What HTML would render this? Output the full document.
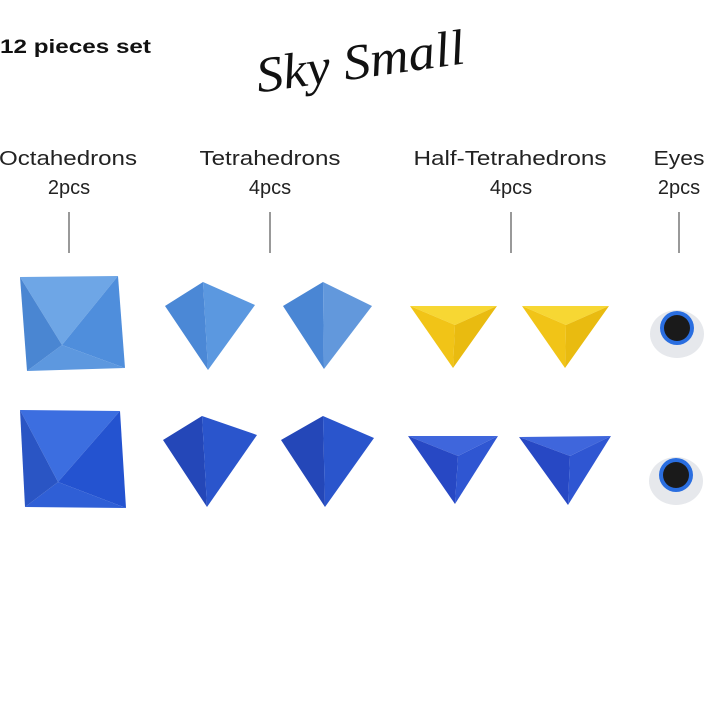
<!DOCTYPE html>
<html><head><meta charset="utf-8"><style>
html,body{margin:0;padding:0;background:#fff;width:728px;height:728px;overflow:hidden}
</style></head><body>
<svg width="728" height="728" viewBox="0 0 728 728" xmlns="http://www.w3.org/2000/svg">
<rect width="728" height="728" fill="#fff"/>
<text x="0" y="53" font-family="Liberation Sans, sans-serif" font-size="19" font-weight="bold" fill="#111" textLength="151" lengthAdjust="spacingAndGlyphs">12 pieces set</text>
<text x="255" y="78" font-family="Liberation Serif, serif" font-style="italic" font-size="50" fill="#111" transform="rotate(-8 360 60)" textLength="210" lengthAdjust="spacingAndGlyphs">Sky Small</text>
<g font-family="Liberation Sans, sans-serif" font-size="20" fill="#222" text-anchor="middle">
<text x="68" y="165" textLength="138" lengthAdjust="spacingAndGlyphs">Octahedrons</text>
<text x="69" y="194">2pcs</text>
<text x="270" y="165" textLength="141" lengthAdjust="spacingAndGlyphs">Tetrahedrons</text>
<text x="270" y="194">4pcs</text>
<text x="510" y="165" textLength="193" lengthAdjust="spacingAndGlyphs">Half-Tetrahedrons</text>
<text x="511" y="194">4pcs</text>
<text x="679" y="165" textLength="51" lengthAdjust="spacingAndGlyphs">Eyes</text>
<text x="679" y="194">2pcs</text>
</g>
<g stroke="#777" stroke-width="1.5">
<line x1="69" y1="212" x2="69" y2="253"/><line x1="270" y1="212" x2="270" y2="253"/>
<line x1="511" y1="212" x2="511" y2="253"/><line x1="679" y1="212" x2="679" y2="253"/>
</g>
<!-- Octahedron light -->
<polygon points="20,277 118,276 62,345" fill="#6ea6e6"/>
<polygon points="118,276 125,368 62,345" fill="#4f8edc"/>
<polygon points="125,368 27,371 62,345" fill="#5d98df"/>
<polygon points="27,371 20,277 62,345" fill="#4a86d2"/>
<!-- Octahedron dark -->
<polygon points="20,410 120,411 58,482" fill="#3c6ee0"/>
<polygon points="120,411 126,508 58,482" fill="#2453d0"/>
<polygon points="126,508 25,507 58,482" fill="#2f5fd6"/>
<polygon points="25,507 20,410 58,482" fill="#2a55c4"/>
<!-- Tetra light -->
<polygon points="203,282 165,306 208,370" fill="#4b88d6"/>
<polygon points="203,282 255,305 208,370" fill="#5b98e0"/>
<polygon points="323,282 283,306 324,369" fill="#4a86d4"/>
<polygon points="323,282 372,306 324,369" fill="#6298dc"/>
<!-- Tetra dark -->
<polygon points="202,416 163,440 207,507" fill="#2447b8"/>
<polygon points="202,416 257,435 207,507" fill="#2a55cc"/>
<polygon points="323,416 281,440 325,507" fill="#2447b8"/>
<polygon points="323,416 374,438 325,507" fill="#2a55cc"/>
<!-- Half tetra yellow -->
<g>
<polygon points="410,306 497,306 455,325" fill="#f7d733"/>
<polygon points="410,306 455,325 453,368" fill="#f1c417"/>
<polygon points="497,306 455,325 453,368" fill="#e9bb10"/>
<polygon points="522,306 609,306 566,325" fill="#f7d733"/>
<polygon points="522,306 566,325 565,368" fill="#f1c417"/>
<polygon points="609,306 566,325 565,368" fill="#e9bb10"/>
</g>
<!-- Half tetra blue -->
<polygon points="408,436 498,436 458,456" fill="#3f66dc"/>
<polygon points="408,436 458,456 455,504" fill="#2748c4"/>
<polygon points="498,436 458,456 455,504" fill="#2f56d2"/>
<polygon points="519,437 611,436 570,456" fill="#3f66dc"/>
<polygon points="519,437 570,456 568,505" fill="#2748c4"/>
<polygon points="611,436 570,456 568,505" fill="#2f56d2"/>
<!-- Eyes -->
<ellipse cx="677" cy="334" rx="27" ry="24" fill="#e6e8ec"/>
<circle cx="677" cy="328" r="17" fill="#2a6ee0"/>
<circle cx="677" cy="328" r="13" fill="#1a1a1a"/>
<ellipse cx="676" cy="481" rx="27" ry="24" fill="#e6e8ec"/>
<circle cx="676" cy="475" r="17" fill="#2a6ee0"/>
<circle cx="676" cy="475" r="13" fill="#1a1a1a"/>
</svg>
</body></html>
